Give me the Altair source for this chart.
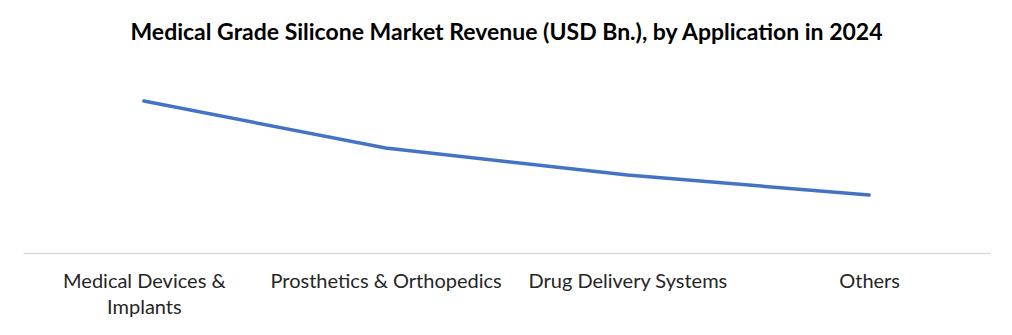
import altair as alt
import pandas as pd

categories = ["Medical Devices & Implants", "Prosthetics & Orthopedics", "Drug Delivery Systems", "Others"]
revenue = [1.52, 1.05, 0.78, 0.58]

df = pd.DataFrame({"Application": categories, "Revenue": revenue})

label_expr = "datum.value == 'Medical Devices & Implants' ? ['Medical Devices &', 'Implants'] : datum.value"

chart = alt.Chart(df).mark_line(color="#4472C4", strokeWidth=3.5, strokeCap="round").encode(
    x=alt.X("Application:N", sort=categories,
            scale=alt.Scale(type="point", padding=0.5),
            axis=alt.Axis(title=None, labelAngle=0, ticks=False, grid=False,
                          domainColor="#D9D9D9", domainWidth=1.3,
                          labelFont="Lato", labelFontSize=20, labelColor="#262626",
                          labelPadding=18, labelLimit=400, labelExpr=label_expr,
                          labelLineHeight=26)),
    y=alt.Y("Revenue:Q", scale=alt.Scale(domain=[0, 1.93]), axis=None),
).properties(
    width=967, height=193,
    title=alt.TitleParams("Medical Grade Silicone Market Revenue (USD Bn.), by Application in 2024",
                          font="Lato", fontSize=23, fontWeight="bold", color="#000000",
                          anchor="middle", offset=15),
    autosize=alt.AutoSizeParams(type="none"),
    padding={"left": 23, "top": 60, "right": 22, "bottom": 82},
).configure_view(stroke=None)

chart.save("out.html", embed_options={"renderer": "svg", "actions": False})
